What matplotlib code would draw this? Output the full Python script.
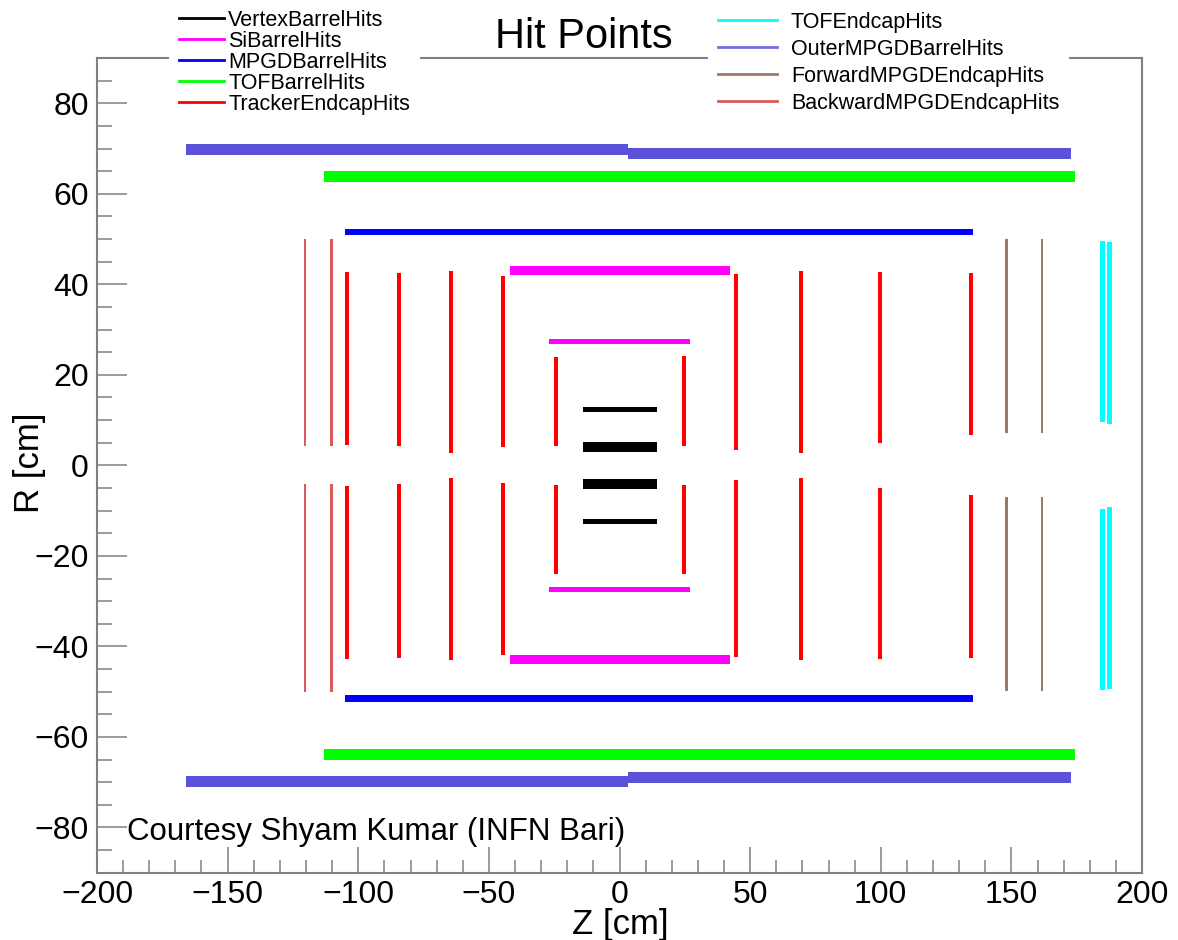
import matplotlib
matplotlib.use("Agg")
import matplotlib.pyplot as plt
from matplotlib.lines import Line2D
from matplotlib.ticker import MultipleLocator

plt.rcParams['font.family'] = ['Liberation Sans', 'DejaVu Sans']
plt.rcParams['axes.unicode_minus'] = True

# ---------------- detector hit bands (Z along beam, R radial, cm) ----------------
# barrel layers: horizontal bands at +/-R spanning [z_min, z_max]
vertex_r = [4.1, 12.4]
vertex_zmin = [-14.0, -14.0]
vertex_zmax = [14.2, 14.2]

si_r = [27.4, 43.0]
si_zmin = [-27.0, -42.0]
si_zmax = [27.0, 42.3]

mpgd_r = [51.5]
mpgd_zmin = [-105.0]
mpgd_zmax = [135.3]

tof_r = [63.9]
tof_zmin = [-113.0]
tof_zmax = [174.3]

outer_mpgd_r = [69.8, 68.9]
outer_mpgd_zmin = [-166.0, 3.3]
outer_mpgd_zmax = [3.3, 172.8]

# endcap disks: vertical bands at z spanning [r_min, r_max] on both sides
tracker_ec_z = [-104.3, -84.4, -64.5, -44.6, -24.3, 24.7, 44.6, 69.5, 99.7, 134.5]
tracker_ec_rmin = [4.5, 4.2, 2.8, 4.0, 4.3, 4.3, 3.3, 2.8, 5.0, 6.6]
tracker_ec_rmax = [42.7, 42.6, 42.9, 41.8, 24.0, 24.1, 42.3, 42.9, 42.7, 42.5]

backward_mpgd_z = [-120.4, -110.4]
backward_mpgd_rmin = [4.2, 4.2]
backward_mpgd_rmax = [50.1, 50.1]

forward_mpgd_z = [148.3, 161.7]
forward_mpgd_rmin = [7.1, 7.1]
forward_mpgd_rmax = [49.9, 49.9]

tof_ec_z = [184.8, 187.7]
tof_ec_rmin = [9.6, 9.1]
tof_ec_rmax = [49.6, 49.4]

legend_left = ["VertexBarrelHits", "SiBarrelHits", "MPGDBarrelHits",
               "TOFBarrelHits", "TrackerEndcapHits"]
legend_right = ["TOFEndcapHits", "OuterMPGDBarrelHits",
                "ForwardMPGDEndcapHits", "BackwardMPGDEndcapHits"]

# ---------------- styles ----------------
C_VERTEX = "#000000"
C_SI = "#ff00ff"
C_MPGD = "#0000ff"
C_TOF = "#00ff00"
C_TRACKER = "#ff0000"
C_TOFEC = "#00ffff"
C_OUTER = "#5a52d8"
C_FWD = "#a07868"
C_BWD = "#d85a5a"

FRAME = "#808080"

W, H = 1178, 940
fig = plt.figure(figsize=(W / 100, H / 100), dpi=100)
ax = fig.add_axes([97 / W, 1 - 872.7 / H, (1142 - 97) / W, (872.7 - 58) / H])


def barrel(rs, zmin, zmax, thick, color):
    for r, a, b, t in zip(rs, zmin, zmax, thick):
        for s in (1, -1):
            ax.barh(s * r, b - a, left=a, height=t, color=color, linewidth=0, zorder=2)


def endcap(zs, rmin, rmax, width, color):
    for z, lo, hi in zip(zs, rmin, rmax):
        ax.bar(z, hi - lo, bottom=lo, width=width, color=color, linewidth=0, zorder=2)
        ax.bar(z, -(hi - lo), bottom=-lo, width=width, color=color, linewidth=0, zorder=2)


barrel(outer_mpgd_r, outer_mpgd_zmin, outer_mpgd_zmax, [2.4, 2.4], C_OUTER)
barrel(tof_r, tof_zmin, tof_zmax, [2.4], C_TOF)
barrel(mpgd_r, mpgd_zmin, mpgd_zmax, [1.4], C_MPGD)
barrel(si_r, si_zmin, si_zmax, [1.1, 2.0], C_SI)
barrel(vertex_r, vertex_zmin, vertex_zmax, [2.2, 1.1], C_VERTEX)

endcap(tracker_ec_z, tracker_ec_rmin, tracker_ec_rmax, 1.3, C_TRACKER)
endcap(backward_mpgd_z, backward_mpgd_rmin, backward_mpgd_rmax, 1.1, C_BWD)
endcap(forward_mpgd_z, forward_mpgd_rmin, forward_mpgd_rmax, 1.1, C_FWD)
endcap(tof_ec_z, tof_ec_rmin, tof_ec_rmax, 2.0, C_TOFEC)

ax.set_xlim(-200, 200)
ax.set_ylim(-90, 90)

# ROOT-like frame: inward ticks on left/bottom only
for sp in ax.spines.values():
    sp.set_color(FRAME)
    sp.set_linewidth(1.5)
ax.xaxis.set_major_locator(MultipleLocator(50))
ax.xaxis.set_minor_locator(MultipleLocator(10))
ax.yaxis.set_major_locator(MultipleLocator(20))
ax.yaxis.set_minor_locator(MultipleLocator(5))
ax.tick_params(axis='x', which='major', direction='in', length=18.5, width=1.1,
               color=FRAME, labelsize=23, pad=5)
ax.tick_params(axis='x', which='minor', direction='in', length=9.3, width=1.1, color=FRAME)
ax.tick_params(axis='y', which='major', direction='in', length=21.5, width=1.1,
               color=FRAME, labelsize=23, pad=6)
ax.tick_params(axis='y', which='minor', direction='in', length=10.8, width=1.1, color=FRAME)

# titles and annotations
fig.text(584 / W, 1 - 48 / H, "Hit Points", fontsize=30, ha='center', va='baseline')
fig.text(620 / W, 1 - 908 / H, "Z [cm]", fontsize=25, ha='center', va='top')
fig.text(30 / W, 1 - 463 / H, "R [cm]", fontsize=25, ha='center', va='center', rotation=90)
fig.text(127 / W, 1 - 840 / H, "Courtesy Shyam Kumar (INFN Bari)", fontsize=22.5,
         ha='left', va='baseline')

# legends
h_left = [Line2D([], [], color=c, lw=2.0) for c in (C_VERTEX, C_SI, C_MPGD, C_TOF, C_TRACKER)]
h_right = [Line2D([], [], color=c, lw=2.0) for c in (C_TOFEC, "#7070e0", C_FWD, C_BWD)]

leg1 = ax.legend(h_left, legend_left, loc='upper left',
                 bbox_to_anchor=(169 / W, 1.0), bbox_transform=fig.transFigure,
                 fontsize=15.5, frameon=True, facecolor='white', edgecolor='none',
                 framealpha=1, fancybox=False, handlelength=2.1, handletextpad=0.2,
                 labelspacing=0.0, borderpad=0.45, borderaxespad=0)
ax.add_artist(leg1)
leg2 = ax.legend(h_right, legend_right, loc='upper left',
                 bbox_to_anchor=(708 / W, 1 - 2 / H), bbox_transform=fig.transFigure,
                 fontsize=15.5, frameon=True, facecolor='white', edgecolor='none',
                 framealpha=1, fancybox=False, handlelength=2.75, handletextpad=0.65,
                 labelspacing=0.28, borderpad=0.45, borderaxespad=0)

fig.savefig("out.png", dpi=100)
